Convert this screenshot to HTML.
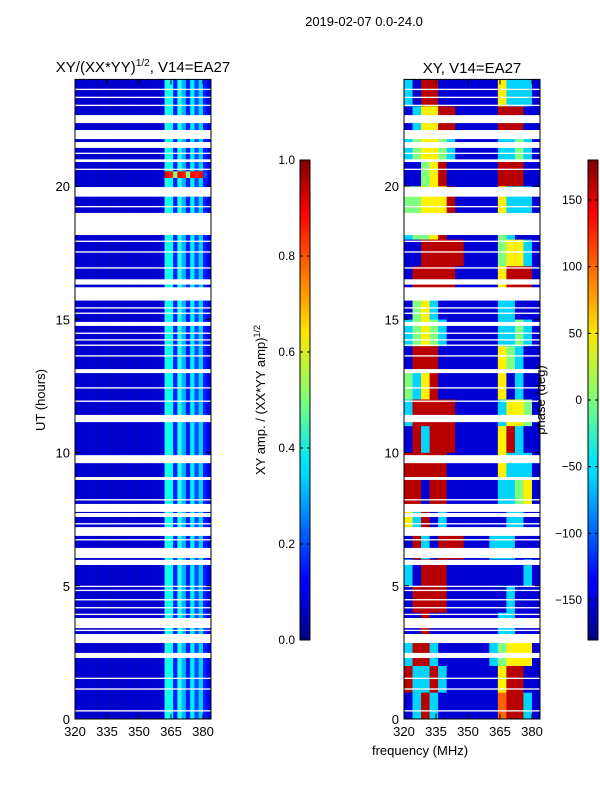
<!DOCTYPE html>
<html><head><meta charset="utf-8"><style>
body{margin:0;background:#fff;}
svg{display:block;font-family:"Liberation Sans","DejaVu Sans",sans-serif;}
</style></head><body>
<svg id="fig" width="600" height="800" xmlns="http://www.w3.org/2000/svg">
<defs>
<linearGradient id="jet" x1="0" y1="1" x2="0" y2="0">
<stop offset="0" stop-color="#00007f"/><stop offset="0.11" stop-color="#0000ff"/><stop offset="0.125" stop-color="#0000ff"/><stop offset="0.34" stop-color="#00d4ff"/><stop offset="0.375" stop-color="#00e5f7"/><stop offset="0.5" stop-color="#7dff7a"/><stop offset="0.64" stop-color="#ffe600"/><stop offset="0.66" stop-color="#ffd400"/><stop offset="0.89" stop-color="#ff0000"/><stop offset="1" stop-color="#7f0000"/>
</linearGradient>
</defs>
<text x="364" y="26" font-size="13" text-anchor="middle">2019-02-07 0.0-24.0</text>
<text x="143" y="72" font-size="15" text-anchor="middle">XY/(XX*YY)<tspan dy="-6" font-size="10">1/2</tspan><tspan dy="6">, V14=EA27</tspan></text>
<text x="472" y="73" font-size="15" text-anchor="middle">XY, V14=EA27</text>
<g id="ampPlot"></g>
<g id="phPlot"></g>
<g id="axes"></g>
<text transform="translate(45,400) rotate(-90)" font-size="13" text-anchor="middle">UT (hours)</text>
<text x="420" y="755" font-size="13" text-anchor="middle">frequency (MHz)</text>
<rect x="300" y="160" width="10" height="480" fill="url(#jet)" stroke="#000" stroke-width="1"/>
<rect x="588" y="160" width="10" height="480" fill="url(#jet)" stroke="#000" stroke-width="1"/>
<text transform="translate(265,400) rotate(-90)" font-size="13" text-anchor="middle">XY amp. / (XX*YY amp)<tspan dy="-5" font-size="9">1/2</tspan></text>
<text transform="translate(545,400) rotate(-90)" font-size="13" text-anchor="middle">phase (deg)</text>
<g id="cbticks"></g>
</svg>
<script>
// ---- data ----
const hours = [0,1,2,3,4,5,6,7,8,9,10,11,12,13,14,15,16,17,18,19,20,21,22,23];
const ampFreqEdges = [320,322,324,326,328,330,332,334,336,338,340,342,344,346,348,350,352,354,356,358,360,362,364,366,368,370,372,374,376,378,380,382,384];
const ampBase = [0.08,0.08,0.07,0.08,0.08,0.07,0.08,0.08,0.07,0.08,0.08,0.07,0.08,0.08,0.07,0.08,0.08,0.07,0.08,0.08,0.09,0.4,0.38,0.15,0.4,0.3,0.15,0.36,0.2,0.33,0.15,0.1];
const ampHot = [0.08,0.08,0.07,0.08,0.08,0.07,0.08,0.08,0.07,0.08,0.08,0.07,0.08,0.08,0.07,0.08,0.08,0.07,0.08,0.08,0.1,0.88,0.85,0.5,0.88,0.85,0.5,0.88,0.85,0.88,0.2,0.1];
const hotRows = [[20.3,20.55]];
const phFreqEdges = [320,324,328,332,336,340,344,348,352,356,360,364,368,372,376,380,384];
const phase = [
[-150,-60,160,-60,-150,-150,-150,-150,-150,-150,-150,100,160,160,-60,-150],
[160,-60,-60,160,-60,-150,-150,-150,-150,-150,-150,50,160,160,-150,-150],
[-60,160,160,-60,-150,-150,-150,-150,-150,-150,-60,0,50,50,50,-150],
[-150,-150,160,-150,-150,-150,-150,-150,-150,-150,-150,-60,-60,-150,-150,-150],
[-150,160,160,160,160,-150,-150,-150,-150,-150,-150,-150,-60,-150,-150,-150],
[-60,-150,160,160,160,-150,-150,-150,-150,-150,-150,-150,-150,-150,-60,-150],
[-150,160,-60,-150,160,160,160,-150,-150,-150,-60,-60,-60,-150,-150,-150],
[50,-60,160,-150,-60,-150,-150,-150,-150,-150,-150,-150,-60,-60,-150,-150],
[160,160,-150,160,160,-150,-150,-150,-150,-150,-150,-60,-60,0,50,-150],
[160,160,160,160,160,-150,-150,-150,-150,-150,-150,50,-60,-60,-60,-150],
[-150,160,-60,160,160,160,-150,-150,-150,-150,-150,50,160,-60,-150,-150],
[-60,160,160,160,160,160,-150,-150,-150,-150,-150,-60,50,50,0,-150],
[0,-60,50,160,-150,-150,-150,-150,-150,-150,-150,50,-150,-60,-150,-150],
[-150,160,160,160,-150,-150,-150,-150,-150,-150,-150,50,0,-60,-150,-150],
[-60,0,50,0,-60,-150,-150,-150,-150,-150,-150,-60,-60,0,-60,-150],
[-150,0,50,-60,-150,-150,-150,-150,-150,-150,-150,-60,-60,-150,-150,-150],
[-150,160,160,160,160,160,-150,-150,-150,-150,-150,50,160,160,160,-150],
[-150,-150,160,160,160,160,160,-150,-150,-150,-150,0,50,50,-60,-150],
[-60,0,0,50,160,-150,-150,-150,-150,-150,-150,0,-60,-150,-150,-150],
[0,0,50,50,50,160,-150,-150,-150,-150,-150,50,-60,-60,-60,-150],
[-150,-150,0,50,160,-150,-150,-150,-150,-150,-150,160,160,160,-150,-150],
[-60,0,50,50,0,-60,-150,-150,-150,-150,-150,-60,-60,0,-60,-150],
[-150,-60,50,50,160,160,-150,-150,-150,-150,-150,160,160,160,-150,-150],
[-60,-150,160,160,-150,-150,-150,-150,-150,-150,-150,50,-60,-60,-60,-150]];
const blanks = [[0.28,0.33],[1.1,1.15],[1.5,1.55],[2.29,2.48],[2.85,3.19],[3.3,3.35],[3.41,3.79],[3.9,3.95],[4.15,4.2],[4.45,4.5],[4.8,4.85],[4.95,5.0],[5.78,5.97],[6.04,6.42],[6.7,6.75],[6.87,7.2],[7.3,7.35],[7.58,7.73],[7.77,8.07],[8.2,8.25],[8.97,9.08],[9.6,9.9],[11.14,11.41],[11.9,11.95],[12.4,12.45],[12.98,13.13],[13.6,13.65],[14.0,14.05],[14.2,14.25],[14.45,14.5],[14.75,14.9],[15.2,15.25],[15.4,15.45],[15.7,16.2],[16.3,16.5],[16.9,16.95],[17.5,17.55],[17.9,17.95],[18.16,18.99],[19.2,19.25],[19.6,19.96],[20.6,20.65],[20.9,21.0],[21.2,21.25],[21.43,21.65],[21.76,22.1],[22.36,22.66],[23.0,23.05],[23.3,23.35],[23.6,23.65]];
const yTicks = [0,5,10,15,20];
const xTicks = [320,335,350,365,380];
const ampCbTicks = [0.0,0.2,0.4,0.6,0.8,1.0];
const phCbTicks = [-150,-100,-50,0,50,100,150];
// ---- scales ----
const NS='http://www.w3.org/2000/svg';
const yS = h => 719 - h*26.65;
const xL = f => 75 + (f-320)*2.133;
const xR = f => 404 + (f-320)*2.133;
const TOP=yS(24), BOT=719;
function jet(v){v=Math.max(0,Math.min(1,v));
 const r=Math.max(0,Math.min(1,1.5-Math.abs(4*v-3))),g=Math.max(0,Math.min(1,1.5-Math.abs(4*v-2))),b=Math.max(0,Math.min(1,1.5-Math.abs(4*v-1)));
 return `rgb(${Math.round(r*255)},${Math.round(g*255)},${Math.round(b*255)})`;}
function mk(tag,attrs,parent){const e=document.createElementNS(NS,tag);for(const k in attrs)e.setAttribute(k,attrs[k]);parent.appendChild(e);return e;}
const ampG=document.getElementById('ampPlot'), phG=document.getElementById('phPlot'), ax=document.getElementById('axes'), cbt=document.getElementById('cbticks');
const xMaxL=211, xMaxR=540;
hours.forEach(h=>{
 for(let i=0;i<ampBase.length;i++){
  const x0=xL(ampFreqEdges[i]), x1=Math.min(xMaxL,xL(ampFreqEdges[i+1]));
  if(x1<=x0) continue;
  const r=mk('rect',{x:x0,y:yS(h+1),width:x1-x0+0.3,height:26.95,fill:jet(ampBase[i])},ampG);
  
  
 }
});
hotRows.forEach(hr=>{
 for(let i=0;i<ampHot.length;i++){
  const x0=xL(ampFreqEdges[i]), x1=Math.min(xMaxL,xL(ampFreqEdges[i+1]));
  if(x1<=x0) continue;
  const r=mk('rect',{x:x0,y:yS(hr[1]),width:x1-x0+0.3,height:yS(hr[0])-yS(hr[1]),fill:jet(ampHot[i])},ampG);
  
  
 }
});
hours.forEach((h,hi)=>{
 phase[hi].forEach((p,i)=>{
  const x0=xR(phFreqEdges[i]), x1=Math.min(xMaxR,xR(phFreqEdges[i+1]));
  if(x1<=x0) return;
  const r=mk('rect',{x:x0,y:yS(h+1),width:x1-x0+0.3,height:26.95,fill:jet((p+180)/360)},phG);
  
  
 });
});
blanks.forEach(b=>{
 [[75,xMaxL,ampG],[404,xMaxR,phG]].forEach(([a,e,g])=>{
  const r=mk('rect',{x:a,y:yS(b[1]),width:e-a,height:Math.max(1.2,yS(b[0])-yS(b[1])),fill:'#fff'},g);
  
  
 });
});
[[75,xMaxL,xL,'amp'],[404,xMaxR,xR,'phase']].forEach(([a,e,xs,nm])=>{
 const f=mk('rect',{x:a,y:TOP,width:e-a,height:BOT-TOP,fill:'none',stroke:'#000','stroke-width':1},ax);
 
 
 yTicks.forEach(t=>{
  const y=yS(t);
  mk('line',{x1:a,x2:a+5,y1:y,y2:y,stroke:'#000'},ax);
  mk('line',{x1:e,x2:e-5,y1:y,y2:y,stroke:'#000'},ax);
  const tx=mk('text',{x:a-5,y:y+5,'font-size':13,'text-anchor':'end'},ax);
  tx.textContent=t;
  
  
 });
 xTicks.forEach(t=>{
  const x=xs(t);
  mk('line',{x1:x,x2:x,y1:BOT,y2:BOT-5,stroke:'#000'},ax);
  mk('line',{x1:x,x2:x,y1:TOP,y2:TOP+5,stroke:'#000'},ax);
  const tx=mk('text',{x:x,y:BOT+17,'font-size':13,'text-anchor':'middle'},ax);
  tx.textContent=t;
  
  
 });
});
ampCbTicks.forEach(t=>{
 const y=640-t*480;
 mk('line',{x1:300,x2:303,y1:y,y2:y,stroke:'#000'},cbt);
 mk('line',{x1:310,x2:307,y1:y,y2:y,stroke:'#000'},cbt);
 const tx=mk('text',{x:295,y:y+4,'font-size':12,'text-anchor':'end'},cbt);
 tx.textContent=t.toFixed(1);
 
 
});
phCbTicks.forEach(t=>{
 const y=400-t*(480/360);
 mk('line',{x1:588,x2:591,y1:y,y2:y,stroke:'#000'},cbt);
 mk('line',{x1:598,x2:595,y1:y,y2:y,stroke:'#000'},cbt);
 const tx=mk('text',{x:582,y:y+4,'font-size':12,'text-anchor':'end'},cbt);
 tx.textContent=t<0?'\u2212'+(-t):String(t);
 
 
});
</script>
</body></html>
